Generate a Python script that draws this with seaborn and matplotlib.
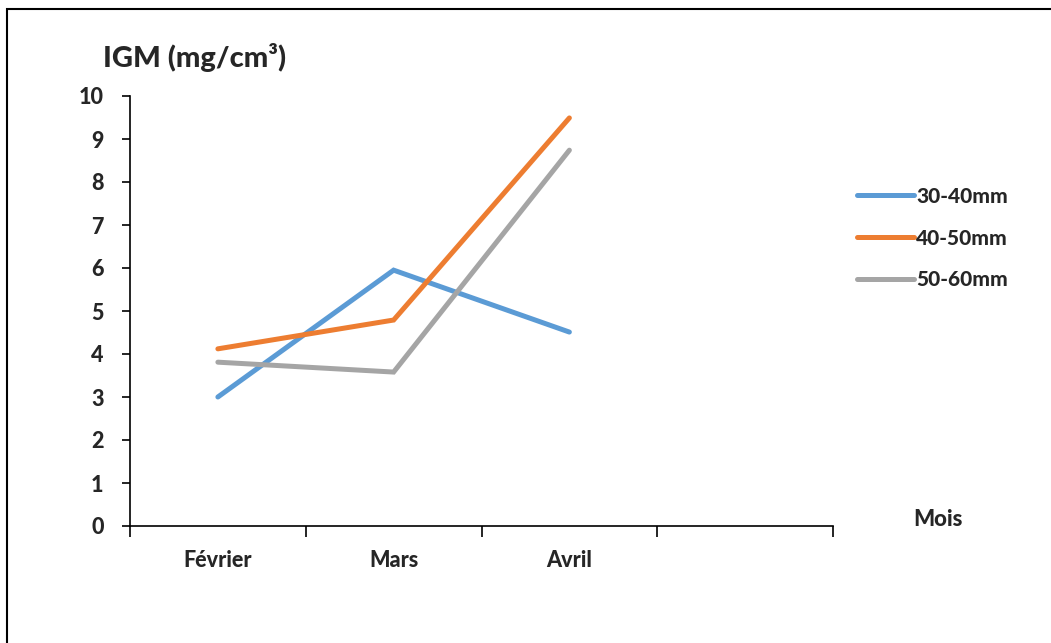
import matplotlib
matplotlib.use("Agg")
import matplotlib.pyplot as plt
from matplotlib.patches import Rectangle
import seaborn as sns
import pandas as pd

months = ["Février", "Mars", "Avril"]
series_names = ["30-40mm", "40-50mm", "50-60mm"]
s_30_40 = [3.0, 5.95, 4.51]
s_40_50 = [4.12, 4.79, 9.49]
s_50_60 = [3.81, 3.58, 8.74]
colors = ["#5B9BD5", "#ED7D31", "#A5A5A5"]
y_ticks = list(range(0, 11))

rows = []
for name, vals in zip(series_names, [s_30_40, s_40_50, s_50_60]):
    for m, v in zip(months, vals):
        rows.append({"Mois": m, "IGM": v, "Classe": name})
df = pd.DataFrame(rows)

WT = "black"
sns.set_style("white")
plt.rcParams["font.family"] = ["Lato", "DejaVu Sans"]
plt.rcParams["font.weight"] = WT

W, H = 1051, 643
fig = plt.figure(figsize=(W / 100, H / 100), dpi=100)
ax = fig.add_axes([130 / W, 1 - 526 / H, (833 - 130) / W, (526 - 96) / H])

sns.lineplot(data=df, x="Mois", y="IGM", hue="Classe", hue_order=series_names,
             palette=colors, linewidth=3.6, sort=False, ax=ax, legend=True)
for ln in ax.lines:
    ln.set_solid_capstyle("round")
    ln.set_solid_joinstyle("miter")

ax.set_xlim(-0.5, 3.5)
ax.set_ylim(0, 10)
ax.set_yticks(y_ticks)
ax.set_yticklabels([str(t) for t in y_ticks], fontsize=15.5, fontweight=WT)
ax.set_xticks([-0.5, 0.5, 1.5, 2.5, 3.5])
ax.set_xticklabels([])
ax.set_xticks([0, 1, 2], minor=True)
ax.set_xticklabels(months, minor=True, fontsize=15.5, fontweight=WT)
ax.tick_params(axis="x", which="major", direction="out", length=8, width=1.2, color="black", bottom=True)
ax.tick_params(axis="x", which="minor", length=0, pad=17)
ax.tick_params(axis="y", direction="out", length=6, width=1.2, color="black", pad=13, left=True)
ax.set_xlabel("")
ax.set_ylabel("")
for s in ["top", "right"]:
    ax.spines[s].set_visible(False)
for s in ["left", "bottom"]:
    ax.spines[s].set_color("black")
    ax.spines[s].set_linewidth(1.2)

handles, labels = ax.get_legend_handles_labels()
ax.legend_.remove()
leg = fig.legend(handles, labels, loc="center left",
                 bbox_to_anchor=(857 / W, 1 - 238 / H), frameon=False,
                 borderpad=0, borderaxespad=0, handlelength=2.75, handletextpad=0.1,
                 labelspacing=1.1, prop={"family": "Lato", "weight": WT, "size": 15})
for lh in leg.get_lines():
    lh.set_linewidth(3.6)
    lh.set_solid_capstyle("round")

fig.text(103 / W, 1 - 57 / H, "IGM (mg/cm³)", fontsize=21, fontweight=WT,
         ha="left", va="center")
fig.text(938 / W, 1 - 520 / H, "Mois", fontsize=16, fontweight=WT,
         ha="center", va="center")

fig.patches.append(Rectangle((7 / W, -0.1), 1.2, 1 - 9 / H + 0.1, transform=fig.transFigure,
                             fill=False, edgecolor="black", linewidth=1.5, figure=fig))

fig.savefig("out.png", dpi=100)
